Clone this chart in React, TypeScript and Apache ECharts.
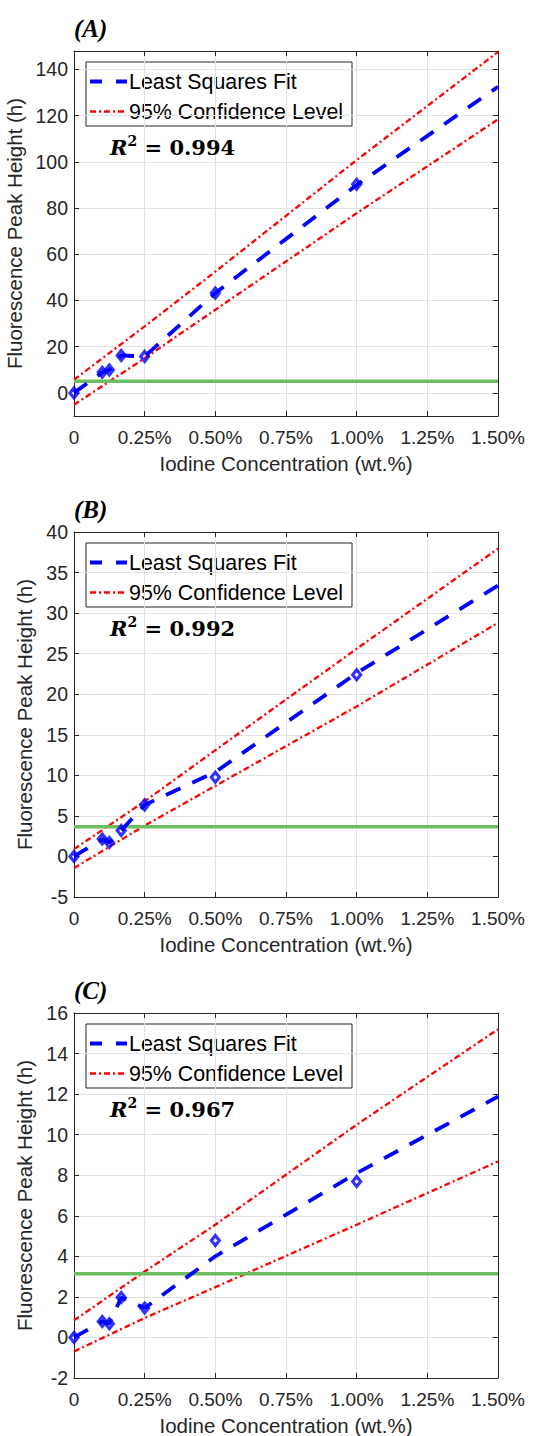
import React, { useEffect, useRef } from "react";
import * as echarts from "echarts";

// ---------- data ----------
const concentration = [0, 0.1, 0.125, 0.167, 0.25, 0.5, 1.0];
const peakA = [0, 8.9, 9.9, 16.2, 15.8, 43.2, 90.3];
const peakB = [0, 2.14, 1.73, 3.2, 6.36, 9.77, 22.4];
const peakC = [0, 0.79, 0.68, 1.97, 1.45, 4.78, 7.69];

const fitX = [0, 0.1, 0.125, 0.167, 0.25, 0.5, 1.0, 1.5];
const fitA = [0, 8.9, 9.9, 16.2, 15.8, 43.2, 90.0, 132.5];
const fitB = [0, 2.14, 1.73, 3.2, 6.36, 10.4, 22.6, 33.4];
const fitC = [0, 0.79, 0.68, 1.97, 1.45, 4.0, 8.1, 11.88];

const bandX = [0, 0.25, 0.5, 1.0, 1.5];
const upperA = [5.7, 28.8, 52.5, 100.8, 147.6];
const lowerA = [-5.1, 15.0, 36.0, 77.8, 118.4];
const upperB = [0.9, 6.8, 13.1, 25.6, 37.95];
const lowerB = [-1.43, 3.8, 8.7, 18.5, 28.8];
const upperC = [0.84, 3.25, 5.56, 10.49, 15.2];
const lowerC = [-0.69, 0.96, 2.48, 5.56, 8.68];

const detectionLimit = [5.0, 3.67, 3.14];

const panelLabels = ["(A)", "(B)", "(C)"];
const rSquared = ["0.994", "0.992", "0.967"];
const yMins = [-10, -5, -2];
const yMaxs = [148, 40, 16];
const yTicksA = [0, 20, 40, 60, 80, 100, 120, 140];
const yIntervals = [20, 5, 2];
const xTickStep = 0.25;
const xMax = 1.5;

const legendNames = ["Least Squares Fit", "95% Confidence Level"];
const xAxisName = "Iodine Concentration (wt.%)";
const yAxisName = "Fluorescence Peak Height (h)";

// ---------- layout ----------
const GRID_LEFT = 74;
const GRID_W = 424;
const GRID_H = 365;
const GRID_TOPS = [51, 532, 1013];

const SANS = "'Liberation Sans', Arial, sans-serif";
const AXIS_COLOR = "#262626";
const GRID_COLOR = "#e2e2e2";
const BLUE = "#0000ff";
const RED = "#ff0000";
const GREEN = "#6cbd5f";

function buildOption() {
  const peaks = [peakA, peakB, peakC];
  const fits = [fitA, fitB, fitC];
  const uppers = [upperA, upperB, upperC];
  const lowers = [lowerA, lowerB, lowerC];

  const grid: any[] = [];
  const xAxis: any[] = [];
  const yAxis: any[] = [];
  const series: any[] = [];
  const graphic: any[] = [];

  for (let i = 0; i < 3; i++) {
    const top = GRID_TOPS[i];
    grid.push({
      left: GRID_LEFT,
      top,
      width: GRID_W,
      height: GRID_H,
      containLabel: false,
      outerBoundsMode: "none",
    });

    const tickStyle = { show: true, inside: true, length: 5, lineStyle: { color: AXIS_COLOR, width: 1 } };
    const lineStyle = { show: true, onZero: false, lineStyle: { color: AXIS_COLOR, width: 1 } };

    xAxis.push({
      type: "value",
      gridIndex: i,
      position: "bottom",
      min: 0,
      max: xMax,
      interval: xTickStep,
      name: xAxisName,
      nameLocation: "middle",
      nameGap: 37,
      nameTextStyle: { fontSize: 20.5, color: AXIS_COLOR, fontFamily: SANS },
      axisLine: lineStyle,
      axisTick: tickStyle,
      axisLabel: {
        show: true,
        fontSize: 19,
        color: AXIS_COLOR,
        fontFamily: SANS,
        margin: 12,
        showMaxLabel: true,
        showMinLabel: true,
        formatter: (v: number) => (v === 0 ? "0" : v.toFixed(2) + "%"),
      },
      splitLine: { show: true, lineStyle: { color: GRID_COLOR, width: 1 } },
    });
    xAxis.push({
      type: "value",
      gridIndex: i,
      position: "top",
      min: 0,
      max: xMax,
      interval: xTickStep,
      axisLine: lineStyle,
      axisTick: tickStyle,
      axisLabel: { show: false },
      splitLine: { show: false },
    });

    const yBase: any = {
      type: "value",
      gridIndex: i,
      min: yMins[i],
      max: yMaxs[i],
    };
    if (i !== 0) yBase.interval = yIntervals[i];

    const yTickMain: any = { ...tickStyle };
    const yLabelMain: any = {
      show: true,
      fontSize: 19.5,
      color: AXIS_COLOR,
      fontFamily: SANS,
      margin: 6,
      showMaxLabel: true,
      showMinLabel: true,
    };
    if (i === 0) {
      yTickMain.customValues = yTicksA;
      yLabelMain.customValues = yTicksA;
    }

    yAxis.push({
      ...yBase,
      position: "left",
      name: yAxisName,
      nameLocation: "middle",
      nameGap: 36,
      nameTextStyle: { fontSize: 20.5, color: AXIS_COLOR, fontFamily: SANS },
      axisLine: lineStyle,
      axisTick: yTickMain,
      axisLabel: yLabelMain,
      splitLine: { show: true, lineStyle: { color: GRID_COLOR, width: 1 } },
    });
    const yTickRight: any = { ...tickStyle };
    if (i === 0) yTickRight.customValues = yTicksA;
    yAxis.push({
      ...yBase,
      position: "right",
      axisLine: lineStyle,
      axisTick: yTickRight,
      axisLabel: { show: false },
      splitLine: { show: false },
    });

    const xi = 2 * i;
    const yi = 2 * i;

    series.push({
      type: "line",
      name: legendNames[1],
      xAxisIndex: xi,
      yAxisIndex: yi,
      data: bandX.map((x, k) => [x, uppers[i][k]]),
      symbol: "none",
      lineStyle: { color: RED, width: 2.3, type: [6, 3, 2, 3] },
      z: 2,
      silent: true,
    });
    series.push({
      type: "line",
      name: legendNames[1],
      xAxisIndex: xi,
      yAxisIndex: yi,
      data: bandX.map((x, k) => [x, lowers[i][k]]),
      symbol: "none",
      lineStyle: { color: RED, width: 2.3, type: [6, 3, 2, 3] },
      z: 2,
      silent: true,
    });
    series.push({
      type: "line",
      name: "Detection limit",
      xAxisIndex: xi,
      yAxisIndex: yi,
      data: [
        [0, detectionLimit[i]],
        [xMax, detectionLimit[i]],
      ],
      symbol: "none",
      lineStyle: { color: GREEN, width: 3.5 },
      z: 3,
      silent: true,
    });
    series.push({
      type: "line",
      name: legendNames[0],
      xAxisIndex: xi,
      yAxisIndex: yi,
      data: fitX.map((x, k) => [x, fits[i][k]]),
      symbol: "none",
      lineStyle: { color: BLUE, width: 3.8, type: [16, 13] },
      z: 4,
      silent: true,
    });
    series.push({
      type: "scatter",
      name: "Data",
      xAxisIndex: xi,
      yAxisIndex: yi,
      data: concentration.map((x, k) => [x, peaks[i][k]]),
      symbol: "diamond",
      symbolSize: [8, 10],
      itemStyle: { color: "rgba(255,255,255,0)", borderColor: BLUE, borderWidth: 3.2 },
      z: 5,
      silent: true,
    });

    // panel label
    graphic.push({
      type: "text",
      x: GRID_LEFT,
      y: top - 23,
      z: 10,
      style: {
        text: panelLabels[i],
        font: "italic bold 25px 'Liberation Serif', 'Times New Roman', serif",
        fill: "#000",
        verticalAlign: "middle",
        align: "left",
      },
    });

    // legend box
    const lx = 86;
    const ly = top + 11;
    graphic.push({
      type: "group",
      x: lx,
      y: ly,
      z: 10,
      children: [
        {
          type: "rect",
          shape: { x: 0, y: 0, width: 266, height: 64 },
          style: { fill: "#fff", stroke: AXIS_COLOR, lineWidth: 1 },
        },
        {
          type: "line",
          shape: { x1: 4, y1: 19.5, x2: 41, y2: 19.5 },
          style: { stroke: BLUE, lineWidth: 3.8, lineDash: [12, 14] },
        },
        {
          type: "line",
          shape: { x1: 4, y1: 49.5, x2: 41, y2: 49.5 },
          style: { stroke: RED, lineWidth: 2.3, lineDash: [6, 3, 2, 3] },
        },
        {
          type: "text",
          x: 43,
          y: 19.5,
          style: {
            text: legendNames[0],
            font: `21.4px ${SANS}`,
            fill: "#000",
            verticalAlign: "middle",
            align: "left",
          },
        },
        {
          type: "text",
          x: 43,
          y: 49.5,
          style: {
            text: legendNames[1],
            font: `21.4px ${SANS}`,
            fill: "#000",
            verticalAlign: "middle",
            align: "left",
          },
        },
      ],
    });

    // R^2 annotation
    graphic.push({
      type: "text",
      x: 110,
      y: top + 96,
      z: 10,
      style: {
        text: `{r|R}{s|2}{t| = ${rSquared[i]}}`,
        verticalAlign: "middle",
        align: "left",
        rich: {
          r: {
            fontFamily: "'DejaVu Serif', serif",
            fontWeight: "bold",
            fontStyle: "italic",
            fontSize: 21,
            lineHeight: 26,
            fill: "#000",
            color: "#000",
          },
          s: {
            fontFamily: "'DejaVu Serif', serif",
            fontWeight: "bold",
            fontSize: 14,
            lineHeight: 14,
            verticalAlign: "top",
            fill: "#000",
            color: "#000",
          },
          t: {
            fontFamily: "'DejaVu Serif', serif",
            fontWeight: "bold",
            fontSize: 21,
            lineHeight: 26,
            fill: "#000",
            color: "#000",
          },
        },
      },
    });
  }

  return {
    animation: false,
    backgroundColor: "#ffffff",
    grid,
    xAxis,
    yAxis,
    series,
    graphic,
  };
}

export default function App() {
  const ref = useRef<HTMLDivElement>(null);
  useEffect(() => {
    if (!ref.current) return;
    const chart = echarts.init(ref.current, undefined, { renderer: "svg" });
    chart.setOption(buildOption() as any);
    return () => chart.dispose();
  }, []);
  return (
    <div
      ref={ref}
      style={{ position: "absolute", left: 0, top: 0, width: 551, height: 1436, background: "#fff" }}
    />
  );
}
